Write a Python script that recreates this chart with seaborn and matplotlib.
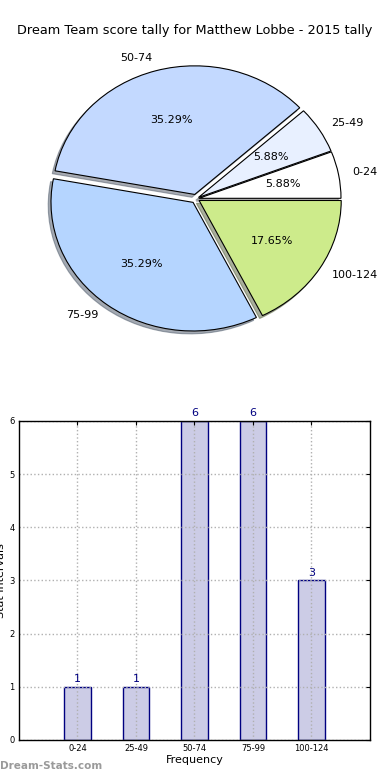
"""Dream Team score tally: pie of score intervals plus a frequency bar chart."""
import matplotlib
matplotlib.use('Agg')
import seaborn as sns
from matplotlib import pyplot as plt

DPI = 100
FIGURE_SIZE = (3.9, 7.8)

# data
categories = ['0-24', '25-49', '50-74', '75-99', '100-124']
counts = [1, 1, 6, 6, 3]
pie_colors = ['#FFFFFF', '#E8F0FF', '#C3D9FF', '#B5D5FF', '#CDEB8B']
explode = [0.02, 0.02, 0.035, 0.035, 0.025]
title = 'Dream Team score tally for Matthew Lobbe - 2015 tally'

sns.set_style('white')
plt.rcParams['font.family'] = ['DejaVu Sans']
plt.rcParams.update({'text.color': 'black', 'axes.labelcolor': 'black',
                     'xtick.color': 'black', 'ytick.color': 'black'})

fig = plt.figure(figsize=FIGURE_SIZE, dpi=DPI)

# pie chart (top), stretched like the old non-equal-aspect pies
ax_pie = fig.add_axes([0.0364, 0.5341, 0.9328, 0.4221])
wedges, texts, autotexts = ax_pie.pie(
    counts, labels=categories, colors=pie_colors, explode=explode,
    autopct='%1.2f%%', startangle=0, labeldistance=1.1, pctdistance=0.6,
    shadow={'ox': -0.014, 'oy': -0.016, 'shade': 0.6},
    wedgeprops={'edgecolor': 'black', 'linewidth': 0.8},
    textprops={'fontsize': 8})
ax_pie.set_aspect('auto')
ax_pie.set_xlim(-1.28, 1.28)
ax_pie.set_ylim(-1.28, 1.28)
ax_pie.axis('off')
fig.text(0.5, 0.961, title, ha='center', va='center', fontsize=9.3)

# bar chart (bottom)
ax_bar = fig.add_axes([0.0487, 0.0513, 0.9, 0.409])
sns.barplot(x=categories, y=counts, color='#CCCCE6', edgecolor='navy',
            linewidth=1, width=0.45, saturation=1, ax=ax_bar)
ax_bar.bar_label(ax_bar.containers[0], padding=2, color='navy', fontsize=8)
ax_bar.set_xlim(-1, 5)
ax_bar.set_ylim(0, 6)
ax_bar.set_yticks(range(0, 7))
ax_bar.grid(True, linestyle=':', color='#b0b0b0', linewidth=1)
ax_bar.set_axisbelow(False)
ax_bar.tick_params(direction='in', top=True, right=True, length=3,
                   labelsize=6, pad=3)
for spine in ax_bar.spines.values():
    spine.set_color('black')
    spine.set_linewidth(1)
    spine.set_zorder(3)
ax_bar.set_xlabel('Frequency', fontsize=8, labelpad=1)
ax_bar.set_ylabel('Stat Intervals', fontsize=8)
ax_bar.yaxis.set_label_coords(-0.036, 0.5)

fig.text(0.0, 0.012, 'Dream-Stats.com', color='#9a9a9a', fontsize=7.5,
         fontweight='bold', ha='left', va='bottom')

fig.savefig('out.png', dpi=DPI)
